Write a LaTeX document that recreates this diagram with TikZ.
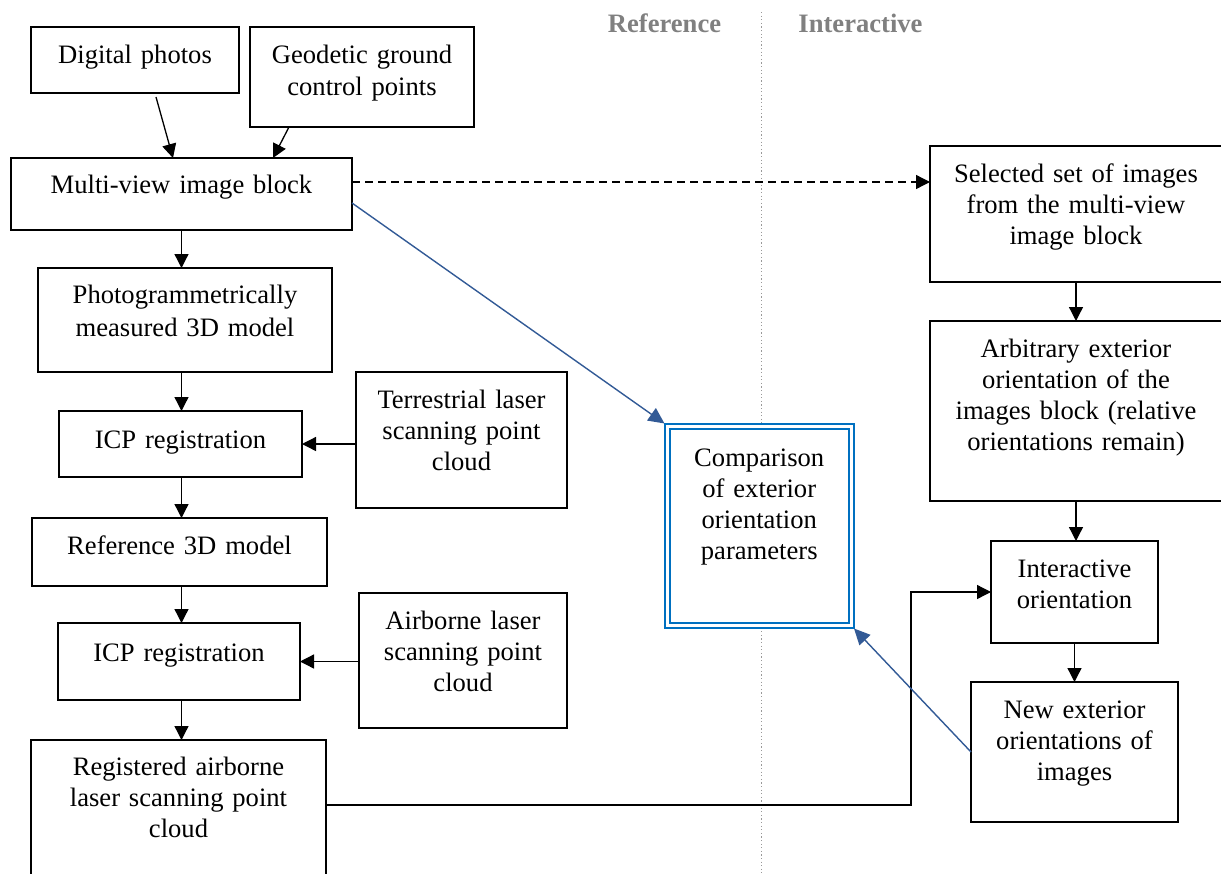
\documentclass[tikz,border=0pt]{standalone}
\usepackage{fontspec}
\setmainfont{Liberation Serif}
\usetikzlibrary{arrows.meta}
\definecolor{compblue}{RGB}{0,112,192}
\definecolor{arrblue}{RGB}{50,90,150}
\definecolor{headgray}{RGB}{128,128,128}
\begin{document}
\begin{tikzpicture}[x=0.5pt,y=-0.5pt,
  bx/.style={draw, line width=0.65pt, fill=white, inner sep=0pt, outer sep=0pt,
    align=center, anchor=north west, font=\fontsize{13.3}{15.5}\selectfont},
  arr/.style={line width=0.65pt, -{Triangle[length=7pt,width=7pt]}},
  barr/.style={draw=arrblue, line width=0.7pt, -{Triangle[length=8pt,width=7.5pt]}},
  head/.style={font=\fontsize{13.3}{15.5}\selectfont\bfseries, text=headgray, inner sep=0pt, anchor=base},
  sep/.style={draw=gray!80, line width=0.5pt, dash pattern=on 0.6pt off 1.2pt}
]
\useasboundingbox (0,0) rectangle (1221,873);
\clip (0,0) rectangle (1221,873);

% lane separator and headings
\draw[sep] (761,12) -- (761,873);
\node[head] (hRef) at (664.5,32) {Reference};
\node[head] (hInt) at (860.5,32) {Interactive};

% left column
\node[bx, text width=104pt, text height=18pt, text depth=15pt] (photos) at (31,27) {Digital photos};
\node[bx, font=\fontsize{13.3}{16}\selectfont, text width=112pt, text height=18pt, text depth=32pt] (gcp) at (250,27) {Geodetic ground\\control points};
\node[bx, text width=170.5pt, text height=17.5pt, text depth=18.5pt] (mvib) at (11,158) {Multi-view image block};
\node[bx, font=\fontsize{13.3}{16.5}\selectfont, text width=147pt, text height=17.5pt, text depth=34.5pt] (photog) at (38,268) {Photogrammetrically\\measured 3D model};
\node[bx, text width=121.5pt, text height=18.5pt, text depth=14.5pt] (icpa) at (59,411) {ICP registration};
\node[bx, text width=147.5pt, text height=18pt, text depth=16pt] (ref3d) at (32,518) {Reference 3D model};
\node[bx, text width=121pt, text height=19pt, text depth=19.5pt] (icpb) at (58,623) {ICP registration};
\node[bx, text width=147.5pt, text height=17.5pt, text depth=62.5pt] (reg) at (31,740) {Registered airborne\\laser scanning point\\cloud};

\node[bx, text width=105.5pt, text height=18pt, text depth=50pt] (tls) at (356,372) {Terrestrial laser\\scanning point\\cloud};
\node[bx, text width=104pt, text height=18pt, text depth=49.5pt] (als) at (359,593) {Airborne laser\\scanning point\\cloud};

% comparison
\node[bx, draw=compblue, double=white, double distance=1.5pt, line width=1pt,
  text width=91.75pt, text height=19.75pt, text depth=79.75pt] (comp) at (667.5,426.5)
  {Comparison\\of exterior\\orientation\\parameters};

% right column
\node[bx, text width=146pt, text height=18pt, text depth=50pt] (sel) at (930,146) {Selected set of images\\from the multi-view\\image block};
\node[bx, text width=146pt, text height=18pt, text depth=72pt] (arb) at (930,321) {Arbitrary exterior\\orientation of the\\images block (relative\\orientations remain)};
\node[bx, text width=83.5pt, text height=18pt, text depth=33pt] (inter) at (991,541) {Interactive\\orientation};
\node[bx, text width=103.5pt, text height=18pt, text depth=52pt] (newext) at (971,682) {New exterior\\orientations of\\images};

% connectors
\draw[arr] ([xshift=10.5pt,yshift=-2pt]photos.south) -- ([xshift=-4.25pt]mvib.north);
\draw[arr] ([xshift=-36.5pt]gcp.south) -- ([xshift=45.75pt]mvib.north);
\draw[arr] (mvib.south) -- (mvib.south |- photog.north);
\draw[arr] (photog.south -| mvib.south) -- (mvib.south |- icpa.north);
\draw[arr] (icpa.south -| mvib.south) -- (mvib.south |- ref3d.north);
\draw[arr] (ref3d.south -| mvib.south) -- (mvib.south |- icpb.north);
\draw[arr] (icpb.south -| mvib.south) -- (mvib.south |- reg.north);
\draw[arr] (tls.west |- icpa.east) -- (icpa.east);
\draw[arr] (als.west |- icpb.east) -- (icpb.east);

\draw[arr, dashed, dash pattern=on 4pt off 2.5pt] ([yshift=6pt]mvib.east) -- ([yshift=6pt]mvib.east -| sel.west);
\draw[arr] (sel.south) -- (sel.south |- arb.north);
\draw[arr] (arb.south) -- (arb.south |- inter.north);
\draw[arr] (inter.south) -- (inter.south |- newext.north);

\coordinate (j) at (911,805);
\draw[arr] (reg.east |- j) -- (j) |- (inter.west);

\draw[barr] ([yshift=-4.5pt]mvib.east) -- ([xshift=-1.5pt,yshift=1.5pt]comp.north west);
\draw[barr] (newext.west) -- ([xshift=1.5pt,yshift=-1.5pt]comp.south east);
\end{tikzpicture}
\end{document}
